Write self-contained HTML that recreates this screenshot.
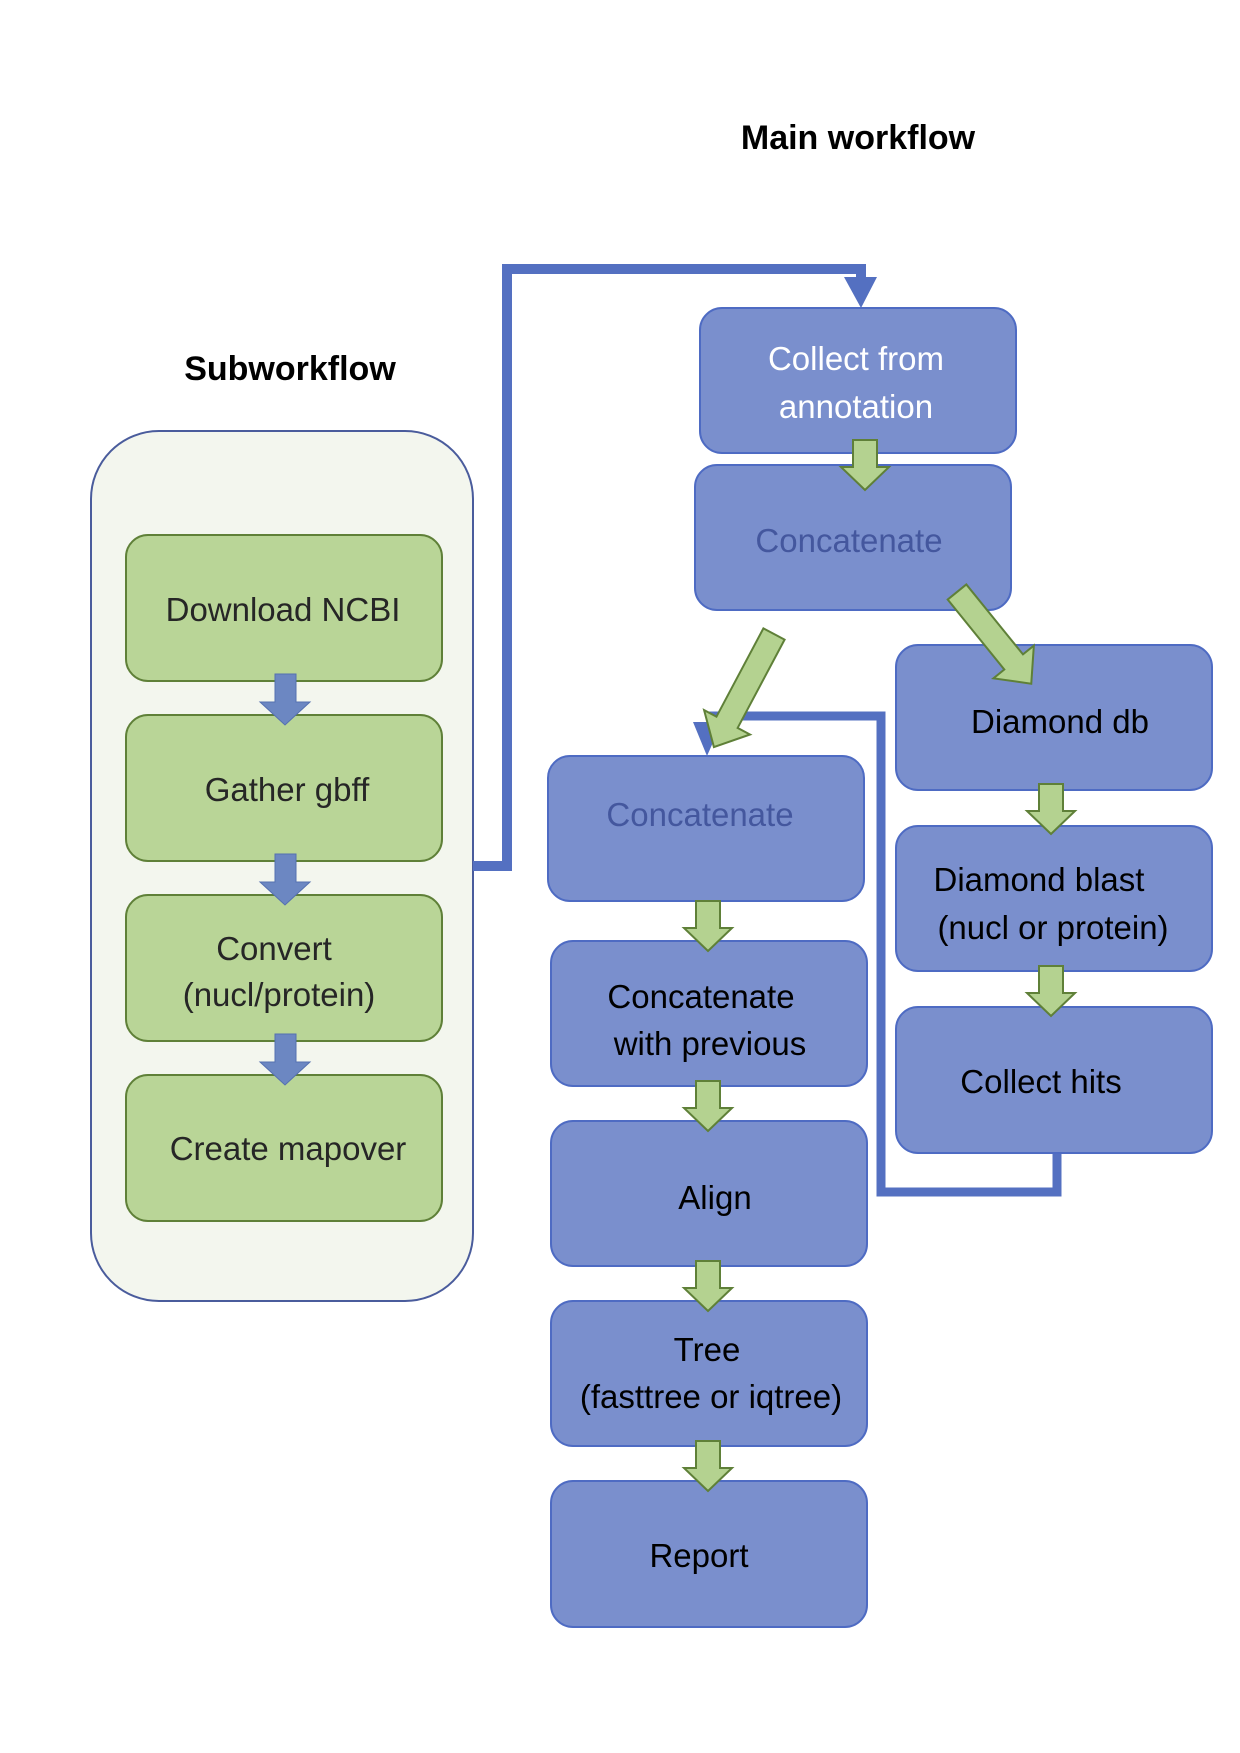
<!DOCTYPE html>
<html><head><meta charset="utf-8"><style>
html,body{margin:0;padding:0;background:#fff;}
svg{display:block;}
text{font-family:"Liberation Sans",sans-serif;}
</style></head><body>
<svg width="1240" height="1753" viewBox="0 0 1240 1753" xmlns="http://www.w3.org/2000/svg">
<defs>
<path id="ga" d="M-12,0 L12,0 L12,27 L24,27 L0,50 L-24,27 L-12,27 Z"/>
</defs>
<rect width="1240" height="1753" fill="#fff"/>
<text x="858" y="149" font-size="34" font-weight="bold" text-anchor="middle" fill="#000">Main workflow</text>
<text x="290" y="380" font-size="34" font-weight="bold" text-anchor="middle" fill="#000">Subworkflow</text>

<rect x="91" y="431" width="382" height="870" rx="68" fill="#f3f6ee" stroke="#4a5c9c" stroke-width="2"/>
<g fill="#b9d597" stroke="#5f8038" stroke-width="2">
<rect x="126" y="535" width="316" height="146" rx="22"/>
<rect x="126" y="715" width="316" height="146" rx="22"/>
<rect x="126" y="895" width="316" height="146" rx="22"/>
<rect x="126" y="1075" width="316" height="146" rx="22"/>
</g>
<g font-size="33" fill="#262626" text-anchor="middle">
<text x="283" y="621">Download NCBI</text>
<text x="287" y="801">Gather gbff</text>
<text x="274" y="960">Convert</text>
<text x="279" y="1006">(nucl/protein)</text>
<text x="288" y="1160">Create mapover</text>
</g>
<g fill="#6c87c2" stroke="#5470b0" stroke-width="1">
<path d="M275,674 L296,674 L296,702 L310,702 L285,725 L260,702 L275,702 Z"/>
<path d="M275,854 L296,854 L296,882 L310,882 L285,905 L260,882 L275,882 Z"/>
<path d="M275,1034 L296,1034 L296,1062 L310,1062 L285,1085 L260,1062 L275,1062 Z"/>
</g>

<polyline points="473,866 507,866 507,269 861,269 861,282" fill="none" stroke="#5470c1" stroke-width="10"/>
<path d="M844,277 L877,277 L861,308 Z" fill="#5470c1"/>

<polyline points="1057,1150 1057,1192 881,1192 881,716 712,716 712,725" fill="none" stroke="#5470c1" stroke-width="9"/>
<path d="M693,722 L722,722 L707,756 Z" fill="#5470c1"/>

<g fill="#7a8fcd" stroke="#4e6bc3" stroke-width="2">
<rect x="700" y="308" width="316" height="145" rx="22"/>
<rect x="695" y="465" width="316" height="145" rx="22"/>
<rect x="896" y="645" width="316" height="145" rx="22"/>
<rect x="896" y="826" width="316" height="145" rx="22"/>
<rect x="896" y="1007" width="316" height="146" rx="22"/>
<rect x="548" y="756" width="316" height="145" rx="22"/>
<rect x="551" y="941" width="316" height="145" rx="22"/>
<rect x="551" y="1121" width="316" height="145" rx="22"/>
<rect x="551" y="1301" width="316" height="145" rx="22"/>
<rect x="551" y="1481" width="316" height="146" rx="22"/>
</g>
<g font-size="33" text-anchor="middle" fill="#000">
<text x="856" y="370" fill="#fff">Collect from</text>
<text x="856" y="418" fill="#fff">annotation</text>
<text x="849" y="552" fill="#44579e">Concatenate</text>
<text x="700" y="826" fill="#44579e">Concatenate</text>
<text x="1060" y="733">Diamond db</text>
<text x="1039" y="891">Diamond blast</text>
<text x="1053" y="939">(nucl or protein)</text>
<text x="1041" y="1093">Collect hits</text>
<text x="701" y="1008">Concatenate</text>
<text x="710" y="1055">with previous</text>
<text x="715" y="1209">Align</text>
<text x="707" y="1361">Tree</text>
<text x="711" y="1408">(fasttree or iqtree)</text>
<text x="699" y="1567">Report</text>
</g>

<g fill="#b4d290" stroke="#5f8038" stroke-width="2">
<use href="#ga" x="865" y="440"/>
<use href="#ga" x="1051" y="784"/>
<use href="#ga" x="1051" y="966"/>
<use href="#ga" x="708" y="901"/>
<use href="#ga" x="708" y="1081"/>
<use href="#ga" x="708" y="1261"/>
<use href="#ga" x="708" y="1441"/>
<g transform="translate(957,592) rotate(-39)"><path d="M-12,0 L12,0 L12,90 L26,90 L0,118 L-26,90 L-12,90 Z"/></g>
<g transform="translate(774,634) rotate(28)"><path d="M-12,0 L12,0 L12,100 L26,100 L0,128 L-26,100 L-12,100 Z"/></g>
</g>
</svg>
</body></html>
